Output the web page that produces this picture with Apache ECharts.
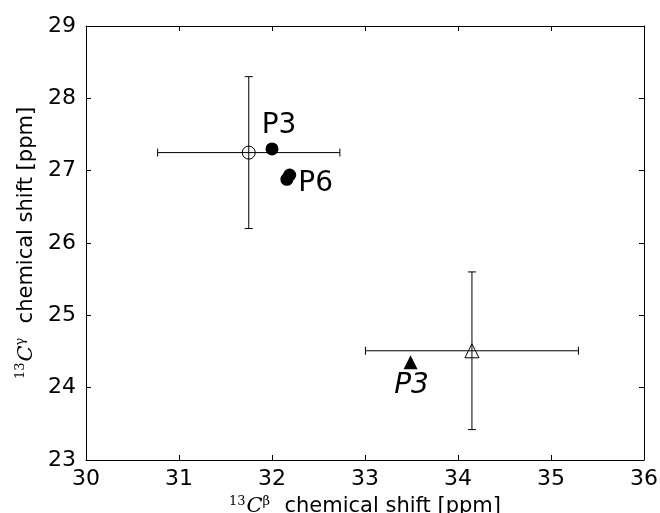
<!DOCTYPE html>
<html>
<head>
<meta charset="utf-8">
<script src="https://cdn.jsdelivr.net/npm/echarts@6/dist/echarts.min.js"></script>
<style>
  html, body { margin: 0; padding: 0; background: #fff; }
  #chart { width: 660px; height: 513px; }
</style>
</head>
<body>
<div id="chart"></div>
<script>
// axis ranges
const xRange = [30, 36];
const yRange = [23, 29];

// reference values with error bars: [x, y, xErr, yErr]
const refCircle = [31.75, 27.25, 0.98, 1.05];
const refTriangle = [34.15, 24.51, 1.145, 1.09];

// measured points
const p3Circle = [32.0, 27.3];
const p6Circles = [[32.19, 26.94], [32.16, 26.88]];
const p3Triangle = [33.49, 24.35];

const font = 'DejaVu Sans';
const capHalf = 4;

const errorData = [refCircle, refTriangle];

const titleRich = {
    sup: { fontFamily: 'DejaVu Serif', fontSize: 13, color: '#000', padding: [0, 1, 11, 0] },
    c: { fontFamily: 'DejaVu Serif', fontStyle: 'italic', fontSize: 21, color: '#000' }
};

const chart = echarts.init(document.getElementById('chart'));

const option = {
    animation: false,
    backgroundColor: '#fff',
    grid: { left: 86, top: 26, right: 16, bottom: 53, outerBoundsMode: 'none' },
    xAxis: [
        {
            type: 'value', min: xRange[0], max: xRange[1], interval: 1,
            position: 'bottom',
            splitLine: { show: false },
            axisLine: { lineStyle: { color: '#000', width: 1 } },
            axisTick: { inside: true, length: 5, lineStyle: { color: '#000' } },
            axisLabel: { fontFamily: font, fontSize: 22, color: '#000', margin: 8 },
            name: '{sup|13}{c|C}{sup|β}  chemical shift [ppm]',
            nameLocation: 'middle',
            nameGap: 34,
            nameTextStyle: { fontFamily: font, fontSize: 21, color: '#000', rich: titleRich }
        },
        {
            type: 'value', min: xRange[0], max: xRange[1], interval: 1,
            position: 'top',
            splitLine: { show: false },
            axisLine: { lineStyle: { color: '#000', width: 1 } },
            axisTick: { inside: true, length: 5, lineStyle: { color: '#000' } },
            axisLabel: { show: false }
        }
    ],
    yAxis: [
        {
            type: 'value', min: yRange[0], max: yRange[1], interval: 1,
            position: 'left',
            splitLine: { show: false },
            axisLine: { show: true, lineStyle: { color: '#000', width: 1 } },
            axisTick: { show: true, inside: true, length: 5, lineStyle: { color: '#000' } },
            axisLabel: { fontFamily: font, fontSize: 22, color: '#000', margin: 10 },
            name: '{sup|13}{c|C}{sup|γ}  chemical shift [ppm]',
            nameLocation: 'middle',
            nameGap: 44,
            nameTextStyle: { fontFamily: font, fontSize: 21, color: '#000', rich: titleRich }
        },
        {
            type: 'value', min: yRange[0], max: yRange[1], interval: 1,
            position: 'right',
            splitLine: { show: false },
            axisLine: { show: true, lineStyle: { color: '#000', width: 1 } },
            axisTick: { show: true, inside: true, length: 5, lineStyle: { color: '#000' } },
            axisLabel: { show: false }
        }
    ],
    series: [
        {
            // error bars
            type: 'custom',
            xAxisIndex: 0, yAxisIndex: 0,
            z: 1,
            data: errorData,
            renderItem: function (params, api) {
                const x = api.value(0), y = api.value(1);
                const dx = api.value(2), dy = api.value(3);
                const left = api.coord([x - dx, y]);
                const right = api.coord([x + dx, y]);
                const top = api.coord([x, y + dy]);
                const bottom = api.coord([x, y - dy]);
                const style = { stroke: '#000', lineWidth: 1 };
                const line = (x1, y1, x2, y2) => ({
                    type: 'line', shape: { x1: x1, y1: y1, x2: x2, y2: y2 }, style: style
                });
                return {
                    type: 'group',
                    children: [
                        line(left[0], left[1], right[0], right[1]),
                        line(left[0], left[1] - capHalf, left[0], left[1] + capHalf),
                        line(right[0], right[1] - capHalf, right[0], right[1] + capHalf),
                        line(top[0], top[1], bottom[0], bottom[1]),
                        line(top[0] - capHalf, top[1], top[0] + capHalf, top[1]),
                        line(bottom[0] - capHalf, bottom[1], bottom[0] + capHalf, bottom[1])
                    ]
                };
            }
        },
        {
            // open reference circle
            type: 'scatter', z: 3,
            symbol: 'circle', symbolSize: 13,
            itemStyle: { color: 'rgba(0,0,0,0)', borderColor: '#000', borderWidth: 1, opacity: 1 },
            data: [refCircle.slice(0, 2)]
        },
        {
            // open reference triangle
            type: 'scatter', z: 3,
            symbol: 'triangle', symbolSize: 14,
            itemStyle: { color: 'rgba(0,0,0,0)', borderColor: '#000', borderWidth: 1, opacity: 1 },
            data: [refTriangle.slice(0, 2)]
        },
        {
            // filled circles
            type: 'scatter', z: 4,
            symbol: 'circle', symbolSize: 13,
            itemStyle: { color: '#000', opacity: 1 },
            label: { fontFamily: font, fontSize: 28, color: '#000', position: 'inside' },
            data: [
                { value: p3Circle, label: { show: true, formatter: 'P3', offset: [7, -23] } },
                { value: p6Circles[0], label: { show: true, formatter: 'P6', offset: [26, 9] } },
                { value: p6Circles[1] }
            ]
        },
        {
            // filled triangle
            type: 'scatter', z: 4,
            symbol: 'triangle', symbolSize: 14,
            itemStyle: { color: '#000', opacity: 1 },
            label: {
                show: true, formatter: 'P3', position: 'inside', offset: [1, 23],
                fontFamily: font, fontSize: 28, fontStyle: 'italic', color: '#000'
            },
            data: [p3Triangle]
        }
    ]
};

chart.setOption(option);
</script>
</body>
</html>
